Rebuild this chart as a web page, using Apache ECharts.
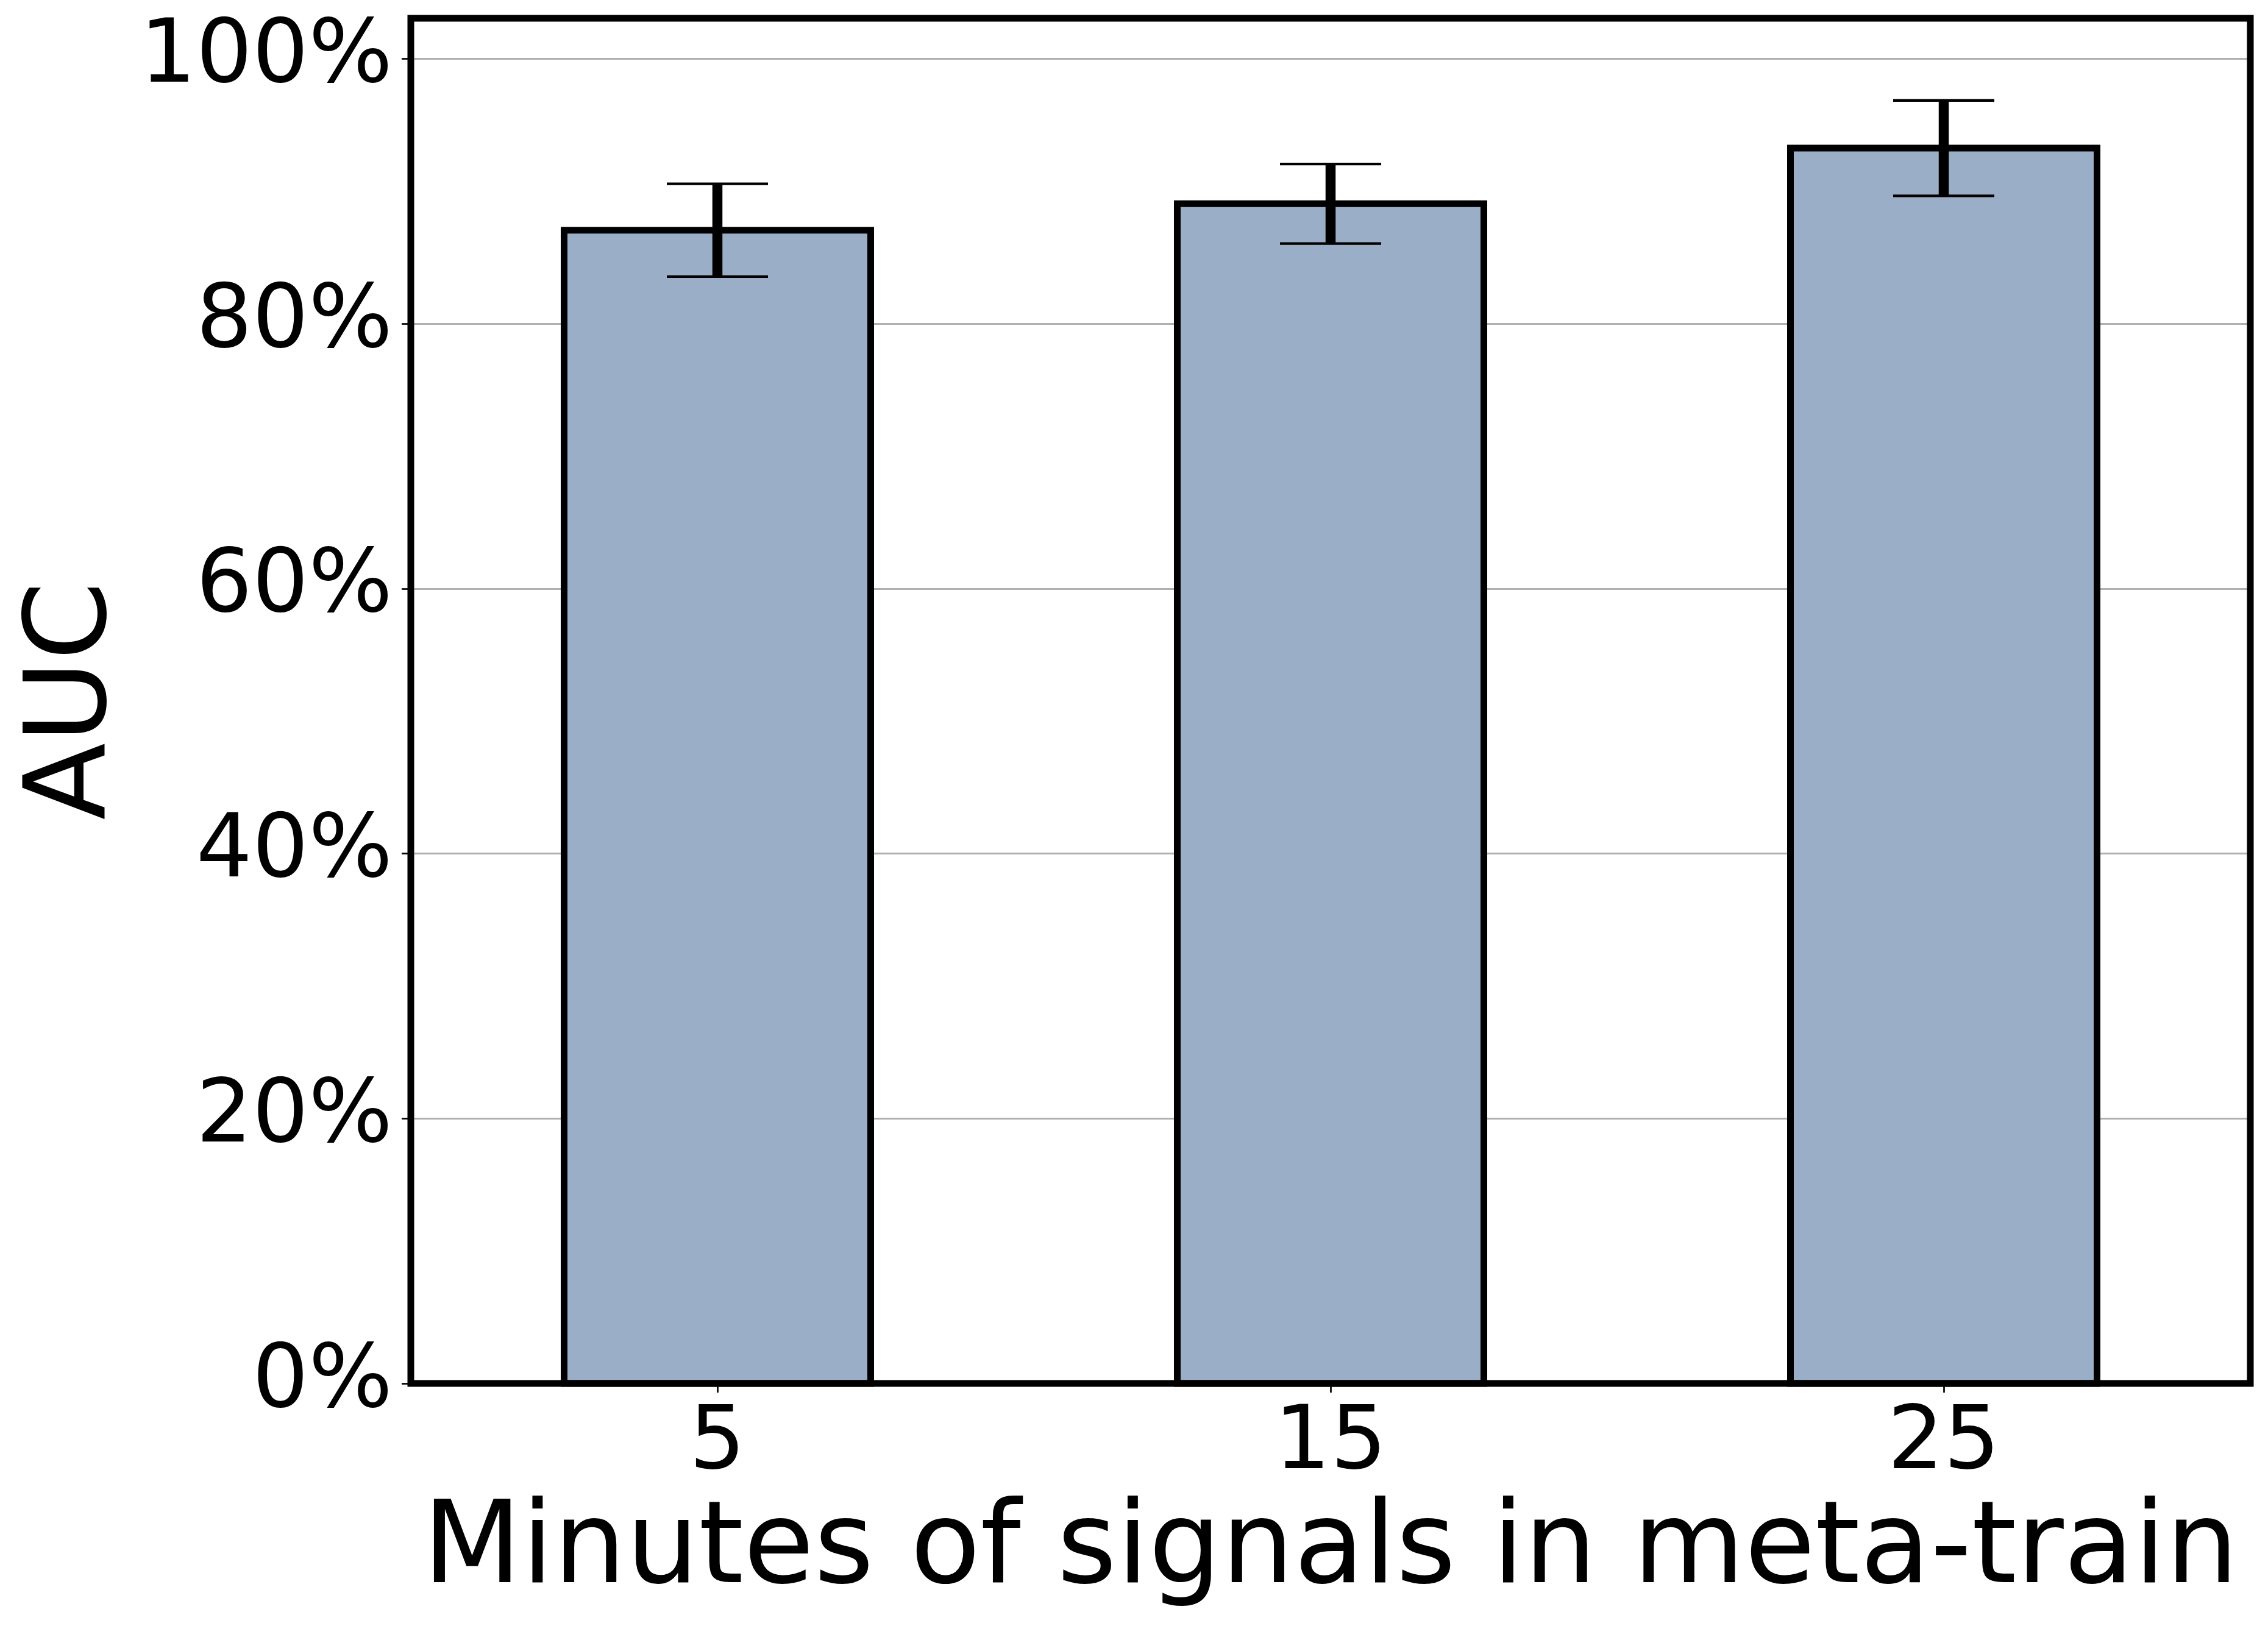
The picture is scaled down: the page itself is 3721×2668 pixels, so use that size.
<!DOCTYPE html>
<html>
<head>
<meta charset="utf-8">
<script src="https://cdn.jsdelivr.net/npm/echarts@6/dist/echarts.min.js"></script>
<style>
html,body{margin:0;padding:0;background:#fff;}
#chart{width:3721px;height:2668px;}
</style>
</head>
<body>
<div id="chart"></div>
<script>
// ---- data ----
const categories = ['5', '15', '25'];
const aucMean = [87.05, 89.05, 93.25];
const aucErr = [3.5, 3.0, 3.6];
const yTicks = [0, 20, 40, 60, 80, 100];
const yMax = 103.05;
const xTitle = 'Minutes of signals in meta-train';
const yTitle = 'AUC';

const FONT = 'DejaVu Sans';
const BAR_FRAC = 0.5;
const chart = echarts.init(document.getElementById('chart'), null, {renderer: 'canvas'});

const errData = categories.map((c, i) => [i, aucMean[i], aucErr[i]]);

const option = {
  backgroundColor: '#ffffff',
  animation: false,
  grid: {
    left: 674, right: 29, top: 30, bottom: 398,
    show: true, borderColor: '#000', borderWidth: 11, backgroundColor: 'transparent',
    z: 10
  },
  xAxis: {
    type: 'category',
    data: categories,
    boundaryGap: true,
    axisLine: {show: false},
    axisTick: {show: true, alignWithLabel: true, length: 15, lineStyle: {color: '#000', width: 2.7}},
    axisLabel: {fontFamily: FONT, fontSize: 145, color: '#000', margin: 29},
    splitLine: {show: false},
    name: xTitle,
    nameLocation: 'middle',
    nameGap: 183,
    nameTextStyle: {fontFamily: FONT, fontSize: 188, color: '#000'}
  },
  yAxis: {
    type: 'value',
    min: 0,
    max: yMax,
    interval: 20,
    axisLine: {show: false},
    axisTick: {show: true, length: 15, lineStyle: {color: '#000', width: 2.7}, customValues: yTicks},
    axisLabel: {fontFamily: FONT, fontSize: 145, color: '#000', margin: 30,
      customValues: yTicks,
      formatter: v => v + '%'},
    splitLine: {show: true, lineStyle: {color: '#b0b0b0', width: 2.8}},
    name: yTitle,
    nameLocation: 'middle',
    nameRotate: 90,
    nameGap: 458,
    nameTextStyle: {fontFamily: FONT, fontSize: 185, color: '#000'}
  },
  series: [
    {
      type: 'bar',
      data: aucMean,
      barWidth: (BAR_FRAC * 100) + '%',
      itemStyle: {color: '#9aafc7', borderWidth: 0},
      z: 2
    },
    {
      // bar outlines + error bars
      type: 'custom',
      data: errData,
      z: 5,
      renderItem: function (params, api) {
        const i = api.value(0), m = api.value(1), e = api.value(2);
        const base = api.coord([i, 0]);
        const tip = api.coord([i, m]);
        const bw = api.size([1, 0])[0] * BAR_FRAC;
        const top = api.coord([i, m + e]);
        const bot = api.coord([i, m - e]);
        const half = 83;
        return {
          type: 'group',
          children: [
            {type: 'rect', shape: {x: tip[0] - bw / 2, y: tip[1], width: bw, height: base[1] - tip[1]},
              style: {fill: null, stroke: '#000', lineWidth: 11}},
            {type: 'line', shape: {x1: top[0], y1: top[1], x2: bot[0], y2: bot[1]},
              style: {stroke: '#000', lineWidth: 16.5}},
            {type: 'line', shape: {x1: top[0] - half, y1: top[1], x2: top[0] + half, y2: top[1]},
              style: {stroke: '#000', lineWidth: 4.3}},
            {type: 'line', shape: {x1: bot[0] - half, y1: bot[1], x2: bot[0] + half, y2: bot[1]},
              style: {stroke: '#000', lineWidth: 4.3}}
          ]
        };
      }
    }
  ]
};
chart.setOption(option);
</script>
</body>
</html>
